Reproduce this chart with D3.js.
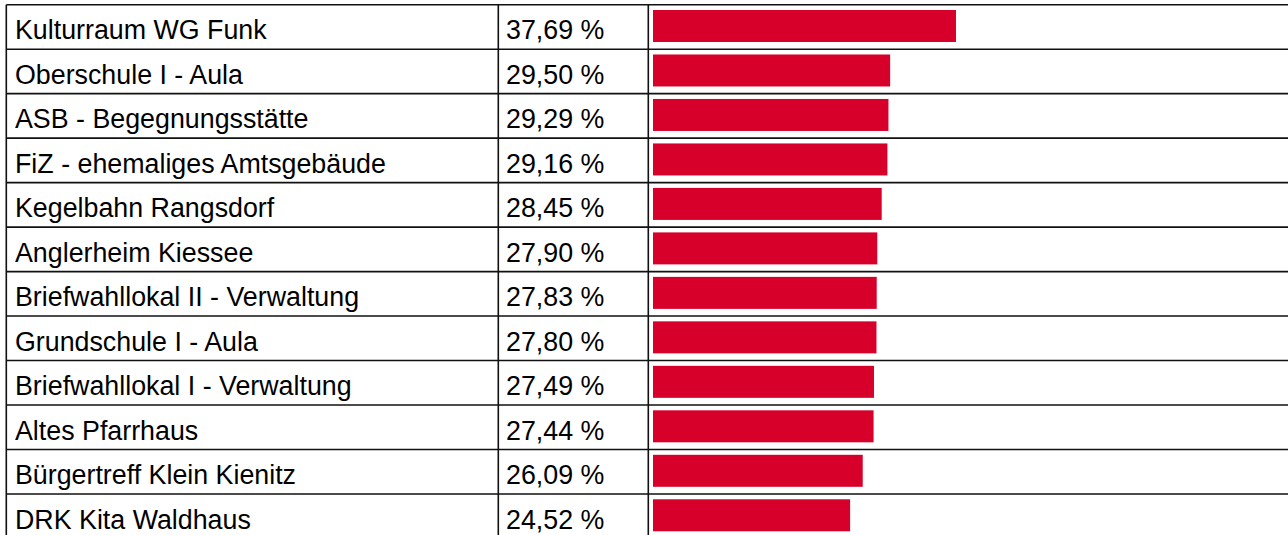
<!DOCTYPE html>
<html>
<head>
<meta charset="utf-8">
<script src="https://cdn.jsdelivr.net/npm/d3@7"></script>
<style>
  html, body { margin: 0; padding: 0; background: #fff; overflow: hidden; }
  svg { display: block; }
  text { font-family: "Liberation Sans", Arial, Helvetica, sans-serif; font-size: 26.8px; fill: #000; }
</style>
</head>
<body>
<svg width="1288" height="535"></svg>
<script>
// Wahlbeteiligung pro Wahllokal
const names = [
  "Kulturraum WG Funk",
  "Oberschule I - Aula",
  "ASB - Begegnungsstätte",
  "FiZ - ehemaliges Amtsgebäude",
  "Kegelbahn Rangsdorf",
  "Anglerheim Kiessee",
  "Briefwahllokal II - Verwaltung",
  "Grundschule I - Aula",
  "Briefwahllokal I - Verwaltung",
  "Altes Pfarrhaus",
  "Bürgertreff Klein Kienitz",
  "DRK Kita Waldhaus"
];
const values = [37.69, 29.50, 29.29, 29.16, 28.45, 27.90, 27.83, 27.80, 27.49, 27.44, 26.09, 24.52];

const rows = names.map((name, i) => ({ name, value: values[i] }));

const svg = d3.select("svg");

// layout of the table
const tableTop = 4.7, rowH = 44.48;
const colName = 6.3, colPct = 498.3, colBar = 648.3, tableRight = 1300;

const y = d3.scaleBand()
  .domain(names)
  .range([tableTop, tableTop + rowH * names.length])
  .paddingInner(0)
  .paddingOuter(0);

const x = d3.scaleLinear()
  .domain([0, 80])
  .range([653, 653 + 643.1]);

const de = d3.formatLocale({ decimal: ",", thousands: ".", grouping: [3], currency: ["", " €"] });
const fmt = de.format(".2f");

// bars
svg.append("g")
  .selectAll("rect")
  .data(rows)
  .join("rect")
  .attr("x", x(0))
  .attr("y", (d) => y(d.name) + 5.3)
  .attr("width", (d) => x(d.value) - x(0))
  .attr("height", 32)
  .attr("fill", "#d7002a");

// grid lines
const grid = svg.append("g")
  .attr("stroke", "#111")
  .attr("stroke-width", 1.6)
  .attr("fill", "none");

grid.selectAll("line.h")
  .data(d3.range(names.length + 1))
  .join("line")
  .attr("class", "h")
  .attr("x1", colName)
  .attr("x2", tableRight)
  .attr("y1", (i) => tableTop + i * rowH)
  .attr("y2", (i) => tableTop + i * rowH);

grid.selectAll("line.v")
  .data([colName, colPct, colBar])
  .join("line")
  .attr("class", "v")
  .attr("x1", (d) => d)
  .attr("x2", (d) => d)
  .attr("y1", tableTop)
  .attr("y2", 540);

// labels
const labels = svg.append("g")
  .selectAll("g")
  .data(rows)
  .join("g")
  .attr("transform", (d) => "translate(0," + (y(d.name) + 34.6) + ")");

labels.append("text")
  .attr("x", 15)
  .text((d) => d.name);

labels.append("text")
  .attr("x", 506)
  .text((d) => fmt(d.value) + " %");
</script>
</body>
</html>
